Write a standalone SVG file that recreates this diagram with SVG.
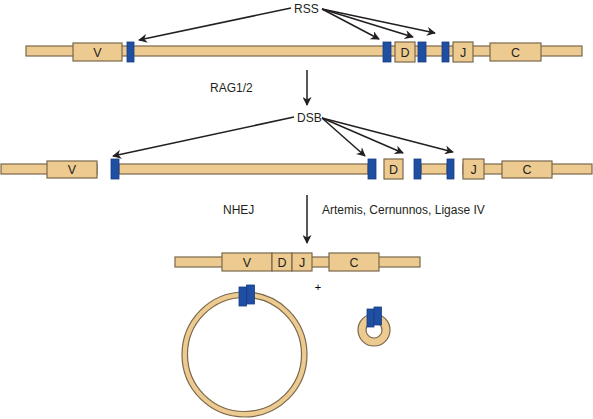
<svg xmlns="http://www.w3.org/2000/svg" width="593" height="419" viewBox="0 0 593 419">
<defs>
<style>
.t{fill:#EDCA8F;stroke:#7A684C;stroke-width:1.2}
.b{fill:#1F4FA3;stroke:#173E82;stroke-width:0.8}
.lab{font-family:"Liberation Sans",Arial,sans-serif;font-size:12px;fill:#231F20}
.bl{font-family:"Liberation Sans",Arial,sans-serif;font-size:12.5px;fill:#231F20;text-anchor:middle}
.a{stroke:#231F20;stroke-width:1.5;fill:none;marker-end:url(#ah)}
</style>
<marker id="ah" viewBox="0 0 10 10" refX="9" refY="5" markerWidth="10" markerHeight="9" orient="auto" markerUnits="userSpaceOnUse">
<path d="M0,0 L10,5 L0,10 L3,5 z" fill="#231F20"/>
</marker>
</defs>
<rect width="593" height="419" fill="#fff"/>

<g id="row1">
<rect class="t" x="26" y="46" width="556" height="10"/>
<rect class="t" x="73" y="43" width="49" height="18"/><text class="bl" x="97.5" y="56.5">V</text>
<rect class="b" x="127" y="42" width="7" height="20"/>
<rect class="b" x="383" y="42" width="8" height="20"/>
<rect class="t" x="395" y="42" width="20" height="20"/><text class="bl" x="405" y="56.5">D</text>
<rect class="b" x="418" y="42" width="8" height="20"/>
<rect class="b" x="442" y="42" width="7" height="20"/>
<rect class="t" x="453" y="42" width="20" height="20"/><text class="bl" x="463" y="56.5">J</text>
<rect class="t" x="490" y="43" width="51" height="18"/><text class="bl" x="515.5" y="56.5">C</text>
</g>

<g id="rss"><text class="lab" x="294" y="13">RSS</text></g>
<g id="rag"><text class="lab" x="210" y="92">RAG1/2</text></g>

<g id="row2">
<rect class="t" x="1" y="164" width="96" height="10"/>
<rect class="t" x="47" y="161" width="50" height="17"/><text class="bl" x="72" y="174">V</text>
<rect class="t" x="119" y="164" width="249" height="10"/>
<rect class="b" x="111" y="159" width="8" height="20"/>
<rect class="b" x="368" y="159" width="8" height="20"/>
<rect class="t" x="384" y="159" width="19" height="20"/><text class="bl" x="393.5" y="174">D</text>
<rect class="t" x="421" y="164" width="26" height="10"/>
<rect class="b" x="414" y="159" width="7" height="20"/>
<rect class="b" x="447" y="159" width="7" height="20"/>
<rect class="t" x="463" y="164" width="129" height="10"/>
<rect class="t" x="463" y="159" width="21" height="20"/><text class="bl" x="473.5" y="174">J</text>
<rect class="t" x="502" y="161" width="50" height="17"/><text class="bl" x="527" y="174">C</text>
</g>

<g id="dsb"><text class="lab" x="297" y="122">DSB</text></g>
<g id="nhej"><text class="lab" x="223" y="214">NHEJ</text></g>
<g id="enz"><text class="lab" x="322" y="214">Artemis, Cernunnos, Ligase IV</text></g>

<g id="row3">
<rect class="t" x="175" y="257" width="245" height="10"/>
<rect class="t" x="222" y="253" width="50" height="18"/><text class="bl" x="247" y="267">V</text>
<rect class="t" x="272" y="253" width="20" height="18"/><text class="bl" x="282" y="267">D</text>
<rect class="t" x="292" y="253" width="20" height="18"/><text class="bl" x="302" y="267">J</text>
<rect class="t" x="329" y="253" width="50" height="18"/><text class="bl" x="354" y="267">C</text>
</g>

<g id="plus"><text class="bl" x="318" y="291" style="font-size:11px;fill:#000">+</text></g>

<g id="bigcircle">
<circle class="t" cx="244.5" cy="354.5" r="62.5"/>
<circle cx="244.5" cy="354.5" r="57" fill="#fff" stroke="#7A684C" stroke-width="1.2"/>
<rect class="b" x="239" y="287" width="7.5" height="19"/>
<rect class="b" x="246.5" y="285" width="8" height="19"/>
</g>

<g id="smallcircle">
<circle class="t" cx="374" cy="330" r="16"/>
<circle cx="374" cy="330" r="8" fill="#fff" stroke="#7A684C" stroke-width="1.2"/>
<rect class="b" x="367" y="309" width="7" height="18"/>
<rect class="b" x="374" y="307" width="7.5" height="18"/>
</g>

<g id="connectors">
<line class="a" x1="291" y1="8" x2="139" y2="40"/>
<line class="a" x1="322" y1="9" x2="379" y2="39"/>
<line class="a" x1="322" y1="9" x2="413" y2="37"/>
<line class="a" x1="322" y1="9" x2="435" y2="33"/>
<line class="a" x1="307" y1="70" x2="307" y2="105"/>
<line class="a" x1="294" y1="117" x2="113" y2="156"/>
<line class="a" x1="322" y1="118" x2="365" y2="156"/>
<line class="a" x1="322" y1="118" x2="403" y2="153"/>
<line class="a" x1="322" y1="118" x2="453" y2="152"/>
<line class="a" x1="307" y1="195" x2="307" y2="243"/>
</g>
</svg>
